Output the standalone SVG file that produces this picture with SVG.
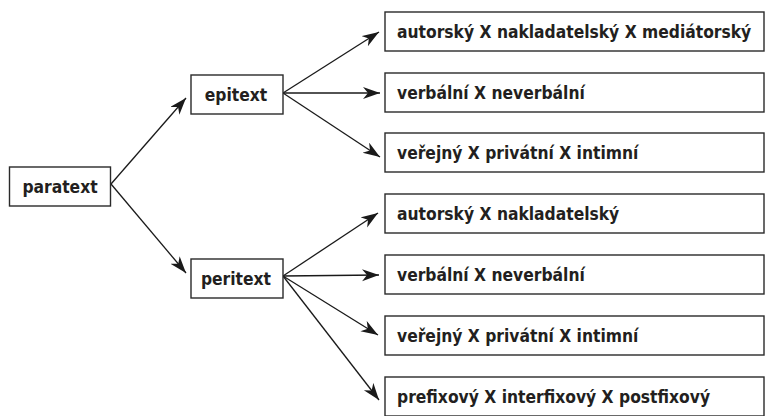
<svg xmlns="http://www.w3.org/2000/svg" width="765" height="416" viewBox="0 0 765 416">
<defs>
<marker id="ah" markerUnits="userSpaceOnUse" markerWidth="18" markerHeight="14" refX="17" refY="6" orient="auto">
<path d="M0,0 L17,6 L0,12 L5,6 z" fill="#1a1a1a"/>
</marker>
<style>
rect{fill:#fff;stroke:#2a2a2a;stroke-width:1.4}
text{font-family:"DejaVu Sans Condensed","DejaVu Sans",sans-serif;font-stretch:condensed;font-weight:bold;font-size:17.3px;fill:#231f20}
.c{text-anchor:middle}
#connectors line{stroke:#1a1a1a;stroke-width:1.3;marker-end:url(#ah)}
</style>
</defs>
<rect x="0" y="0" width="765" height="416" style="fill:#fff;stroke:none"/>
<g id="connectors">
<line x1="111" y1="184" x2="186" y2="98"/>
<line x1="111" y1="184" x2="186" y2="273"/>
<line x1="283" y1="93" x2="379" y2="32"/>
<line x1="283" y1="93" x2="380" y2="93"/>
<line x1="283" y1="93" x2="380" y2="157"/>
<line x1="283" y1="276" x2="378" y2="213"/>
<line x1="283" y1="276" x2="379" y2="275"/>
<line x1="283" y1="276" x2="378" y2="335"/>
<line x1="283" y1="276" x2="379" y2="400"/>
</g>
<g id="paratext"><rect x="9.5" y="167" width="101" height="39"/><text class="c" x="60" y="192.5">paratext</text></g>
<g id="epitext"><rect x="191" y="75" width="92" height="39"/><text class="c" x="236" y="100.5">epitext</text></g>
<g id="peritext"><rect x="191" y="259" width="92" height="39"/><text class="c" x="236" y="284.5">peritext</text></g>
<g id="e1"><rect x="385" y="12" width="379" height="39"/><text x="397" y="37.5">autorský X nakladatelský X mediátorský</text></g>
<g id="e2"><rect x="385" y="73" width="379" height="39"/><text x="397" y="98.5">verbální X neverbální</text></g>
<g id="e3"><rect x="385" y="133" width="379" height="39"/><text x="397" y="158.5">veřejný X privátní X intimní</text></g>
<g id="p1"><rect x="385" y="194" width="379" height="39"/><text x="397" y="219.5">autorský X nakladatelský</text></g>
<g id="p2"><rect x="385" y="255" width="379" height="39"/><text x="397" y="280.5">verbální X neverbální</text></g>
<g id="p3"><rect x="385" y="316" width="379" height="39"/><text x="397" y="341.5">veřejný X privátní X intimní</text></g>
<g id="p4"><rect x="385" y="377" width="379" height="39"/><text x="397" y="402.5">prefixový X interfixový X postfixový</text></g>
</svg>
